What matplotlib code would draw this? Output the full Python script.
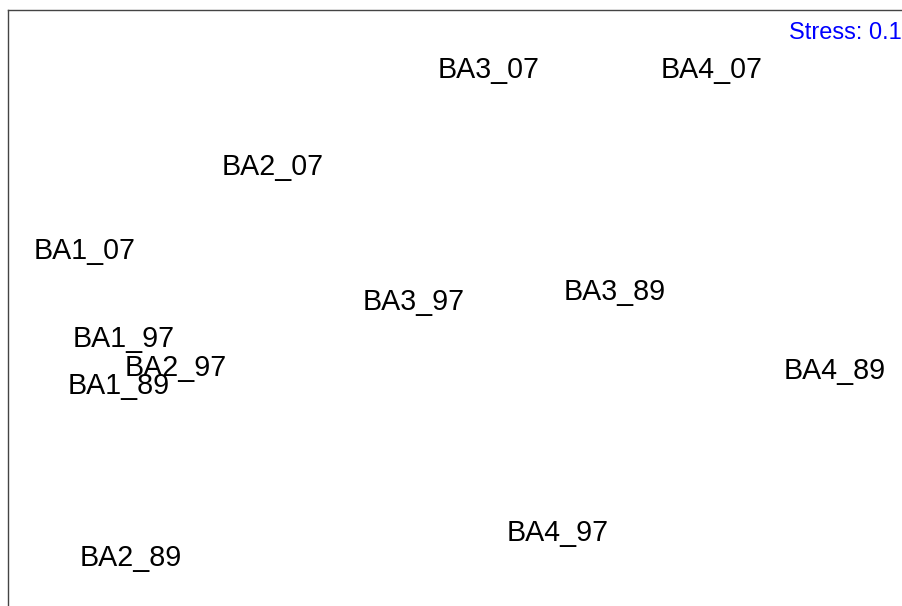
import matplotlib
matplotlib.use('Agg')
import matplotlib.pyplot as plt

plt.rcParams['font.family'] = ['Liberation Sans', 'DejaVu Sans']

# NMDS site scores
sites = ['BA3_07', 'BA4_07', 'BA2_07', 'BA1_07', 'BA3_97', 'BA3_89',
         'BA1_97', 'BA2_97', 'BA1_89', 'BA4_89', 'BA4_97', 'BA2_89']
nmds1 = [0.067, 0.561, -0.412, -0.831, -0.100, 0.346,
         -0.743, -0.627, -0.754, 0.834, 0.218, -0.727]
nmds2 = [0.566, 0.566, 0.342, 0.148, 0.031, 0.054,
         -0.055, -0.122, -0.163, -0.129, -0.502, -0.560]
stress = 0.1

fig = plt.figure(figsize=(9.02, 6.06), dpi=100)
# the plot region runs off the right and bottom of the image
ax = fig.add_axes([8 / 902, -54 / 606, 992 / 902, 650 / 606])
ax.set_xlim(-1.0, 1.2)
ax.set_ylim(-0.795, 0.705)
ax.set_xticks([])
ax.set_yticks([])
for s in ax.spines.values():
    s.set_color('#444444')
    s.set_linewidth(1.0)

for name, x, y in zip(sites, nmds1, nmds2):
    ax.text(x, y, name, fontsize=20.6, ha='center', va='center', color='black')

fig.text(1.0, 1 - 33 / 606, 'Stress: %s' % stress, fontsize=17, color='blue',
         ha='right', va='center')

fig.savefig('out.png', dpi=100)
